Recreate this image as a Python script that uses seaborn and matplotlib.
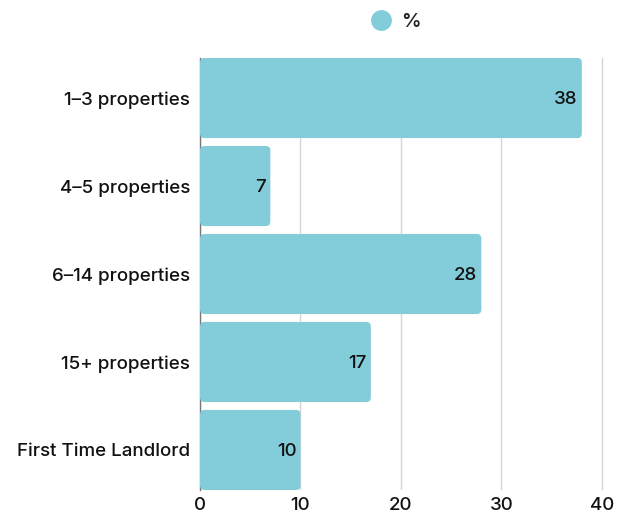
import matplotlib
matplotlib.use("Agg")
import matplotlib.pyplot as plt
import seaborn as sns
import pandas as pd
from matplotlib.patches import FancyBboxPatch
from matplotlib.lines import Line2D

categories = ["1–3 properties", "4–5 properties", "6–14 properties", "15+ properties", "First Time Landlord"]
values = [38, 7, 28, 17, 10]
xticks = [0, 10, 20, 30, 40]
series_name = "%"
bar_color = "#83CCD9"

sns.set_theme(style="white")
plt.rcParams['font.family'] = ['Inter', 'DejaVu Sans']
plt.rcParams['font.weight'] = 'medium'

df = pd.DataFrame({"category": categories, "value": values})

top_px, bot_px, left_px, right_px = 58, 490, 200, 617
fig = plt.figure(figsize=(6.3, 5.2), dpi=100)
ax = fig.add_axes([left_px/630, 1-bot_px/520, (right_px-left_px)/630, (bot_px-top_px)/520])

bw = 0.91
sns.barplot(data=df, x="value", y="category", orient="h", color=bar_color,
            width=bw, ax=ax, saturation=1)

ax.set_xlim(0, 41.5)
ax.set_ylim(len(categories) - 0.5 - (1-bw)/2, -0.5 + (1-bw)/2)

x_px_per_unit = (right_px - left_px) / 41.5
y_px_per_unit = (bot_px - top_px) / (len(categories) - (1-bw))
aspect = x_px_per_unit / y_px_per_unit
for p in list(ax.patches):
    x0, y0, w, h = p.get_x(), p.get_y(), p.get_width(), p.get_height()
    p.remove()
    fb = FancyBboxPatch((x0, y0), w, h,
                        boxstyle="round,pad=0,rounding_size=0.45",
                        mutation_aspect=aspect,
                        facecolor=bar_color, edgecolor="none", zorder=2)
    ax.add_patch(fb)

for i, v in enumerate(values):
    ax.annotate(str(v), xy=(v, i), xytext=(-3, -1), textcoords="offset points",
                ha="right", va="center", fontsize=13.5, color="#111111", zorder=3,
                fontweight="medium")

ax.set_xticks(xticks)
ax.set_xticklabels([str(t) for t in xticks], fontsize=13.5, color="#111111", fontweight="medium")
ax.set_yticks(range(len(categories)))
ax.set_yticklabels(categories, fontsize=13.5, color="#111111", fontweight="medium")
ax.tick_params(axis="y", length=0, pad=7)
ax.tick_params(axis="x", length=0, pad=5)
ax.set_xlabel("")
ax.set_ylabel("")

ax.xaxis.grid(True, color="#d6d6d6", linewidth=1, zorder=0)
ax.set_axisbelow(True)
for s in ["top", "right", "bottom"]:
    ax.spines[s].set_visible(False)
ax.spines["left"].set_color("#777777")
ax.spines["left"].set_linewidth(1)
ax.spines["left"].set_zorder(1)

handle = Line2D([0], [0], marker="o", linestyle="none", markersize=15,
                markerfacecolor=bar_color, markeredgecolor="none")
fig.legend([handle], [series_name], loc="center", bbox_to_anchor=(393/630, 1-22/520),
           frameon=False, handletextpad=0.2, handlelength=1.6,
           prop={"weight": "semibold", "size": 14})

fig.savefig("out.png", dpi=100, facecolor="white")
